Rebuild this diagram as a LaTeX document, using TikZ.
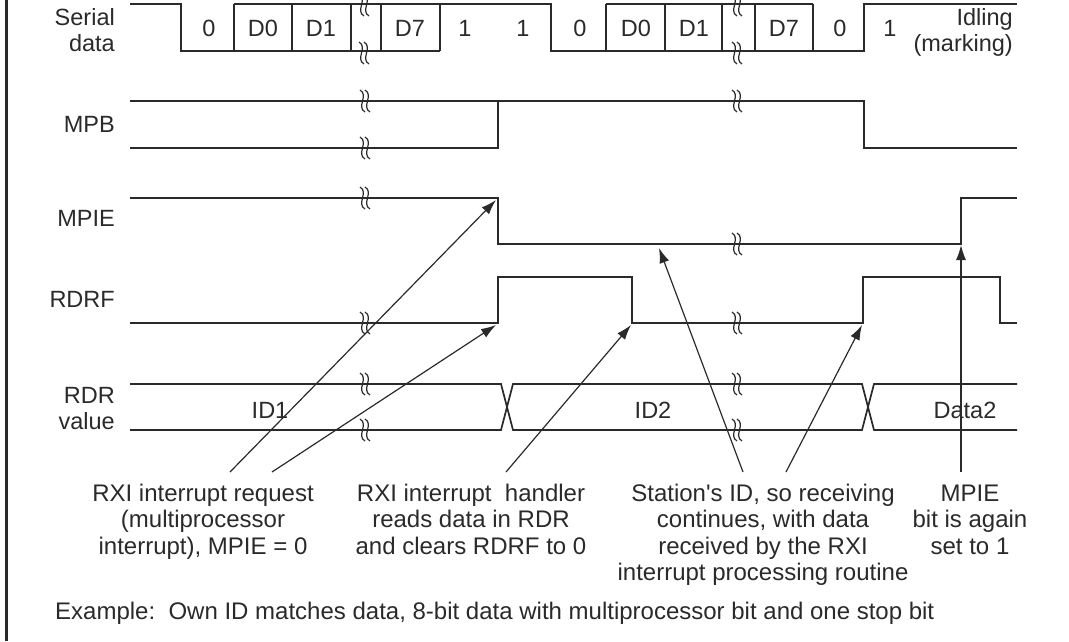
\documentclass[tikz,border=0pt]{standalone}
\usepackage{fontspec}
\setmainfont{Liberation Sans}[Ligatures=TeXOff]
\usetikzlibrary{arrows.meta}
\definecolor{ink}{HTML}{2A2A2A}
\begin{document}
\begin{tikzpicture}[x=1pt,y=-1pt,
  wave/.style={draw=ink,line width=1.7pt,line join=miter},
  ptr/.style={draw=ink,line width=1.2pt,-{Latex[length=15pt,width=10pt]}},
  lbl/.style={font=\fontsize{23.5}{26.5}\selectfont,text=ink,inner sep=0pt},
  note/.style={font=\fontsize{24}{26.5}\selectfont,text=ink,inner sep=0pt,align=center},
  brk/.pic={
    \draw[ink,line width=1.2pt] (-5,-11) .. controls (4,-6) and (-9,6) .. (0,11);
    \draw[ink,line width=1.2pt] (0,-11) .. controls (9,-6) and (-4,6) .. (5,11);
  }]
\useasboundingbox (0,0) rectangle (1069,641);
% left border
\draw[ink,line width=3pt] (6.5,0) -- (6.5,641);

% ---------- signal labels (anchor = baseline of last line)
\node[lbl,align=right,anchor=base east] (lser) at (115,51.5) {Serial\\data};
\node[lbl,anchor=base east] (lmpb) at (115,132) {MPB};
\node[lbl,anchor=base east] (lmpie) at (115,226) {MPIE};
\node[lbl,anchor=base east] (lrdrf) at (115,307) {RDRF};
\node[lbl,align=right,anchor=base east] (lrdr) at (115,429.5) {RDR\\value};

% ---------- serial data
\draw[wave] (130,4) -- (181,4) -- (181,51) -- (440,51);
\draw[wave] (234,4) -- (551,4) -- (551,51) -- (864,51) -- (864,4) -- (1017,4);
\draw[wave] (606,4) -- (813,4);
\foreach \x in {234,292,351,381,440,606,665,722,755,813}
  \draw[wave] (\x,4) -- (\x,51);
\pic at (364,5) {brk};
\pic at (364,53) {brk};
\pic at (737,5) {brk};
\pic at (737,53) {brk};
\node[lbl,anchor=base] (b0) at (209,36) {0};
\node[lbl,anchor=base] (b1) at (263,36) {D0};
\node[lbl,anchor=base] (b2) at (321,36) {D1};
\node[lbl,anchor=base] (b3) at (410,36) {D7};
\node[lbl,anchor=base] (b4) at (465,36) {1};
\node[lbl,anchor=base] (b5) at (523,36) {1};
\node[lbl,anchor=base] (b6) at (580,36) {0};
\node[lbl,anchor=base] (b7) at (636,36) {D0};
\node[lbl,anchor=base] (b8) at (694,36) {D1};
\node[lbl,anchor=base] (b9) at (784,36) {D7};
\node[lbl,anchor=base] (b10) at (840,36) {0};
\node[lbl,anchor=base] (b11) at (890,36) {1};
\node[lbl,align=right,anchor=base east] (idle) at (1013,51.5) {Idling\\(marking)};

% ---------- MPB
\draw[wave] (130,101) -- (864,101) -- (864,148) -- (1017,148);
\draw[wave] (130,148) -- (498,148) -- (498,101);
\pic at (365,101) {brk};
\pic at (365,148) {brk};
\pic at (737,101) {brk};

% ---------- MPIE
\draw[wave] (130,198) -- (498,198) -- (498,244) -- (961,244) -- (961,198) -- (1017,198);
\pic at (365,198) {brk};
\pic at (737,244) {brk};

% ---------- RDRF
\draw[wave] (130,323) -- (498,323) -- (498,277) -- (632,277) -- (632,323)
  -- (863,323) -- (863,277) -- (1000,277) -- (1000,323) -- (1017,323);
\pic at (365,323) {brk};
\pic at (737,323) {brk};

% ---------- RDR value
\draw[wave] (130,384) -- (501,384) -- (513,430) -- (862,430) -- (874,384) -- (1017,384);
\draw[wave] (130,430) -- (501,430) -- (513,384) -- (862,384) -- (874,430) -- (1017,430);
\pic at (365,384) {brk};
\pic at (365,430) {brk};
\pic at (737,384) {brk};
\pic at (737,430) {brk};
\node[lbl,anchor=base] (id1) at (270,418.5) {ID1};
\node[lbl,anchor=base] (id2) at (653,418.5) {ID2};
\node[lbl,anchor=base] (dat2) at (965,418.5) {Data2};

% ---------- notes (anchor = baseline of last line)
\node[note,anchor=base] (n1) at (203,554) {RXI interrupt request\\(multiprocessor\\interrupt), MPIE = 0};
\node[note,anchor=base] (n2) at (471,554) {RXI interrupt\ \ handler\\reads data in RDR\\and clears RDRF to 0};
\node[note,anchor=base] (n3) at (763,580.5) {Station's ID, so receiving\\continues, with data\\received by the RXI\\interrupt processing routine};
\node[note,anchor=base] (n4) at (970,554) {MPIE\\bit is again\\set to 1};
\node[note,anchor=base west] (ex) at (55,619) {Example:\ \ Own ID matches data, 8-bit data with multiprocessor bit and one stop bit};

% ---------- connector ends
\coordinate (s1) at (230,472);
\coordinate (s2) at (272,472);
\coordinate (s3) at (506,472);
\coordinate (s4) at (743,472);
\coordinate (s5) at (786,472);
\coordinate (s6) at (961,472);
\coordinate (e1) at (496,200);
\coordinate (e2) at (496,325);
\coordinate (e3) at (631,325);
\coordinate (e4) at (659,248);
\coordinate (e5) at (862,325);
\coordinate (e6) at (961,245);
\draw[ptr] (s1) -- (e1);
\draw[ptr] (s2) -- (e2);
\draw[ptr] (s3) -- (e3);
\draw[ptr] (s4) -- (e4);
\draw[ptr] (s5) -- (e5);
\draw[ptr] (s6) -- (e6);
\end{tikzpicture}
\end{document}
